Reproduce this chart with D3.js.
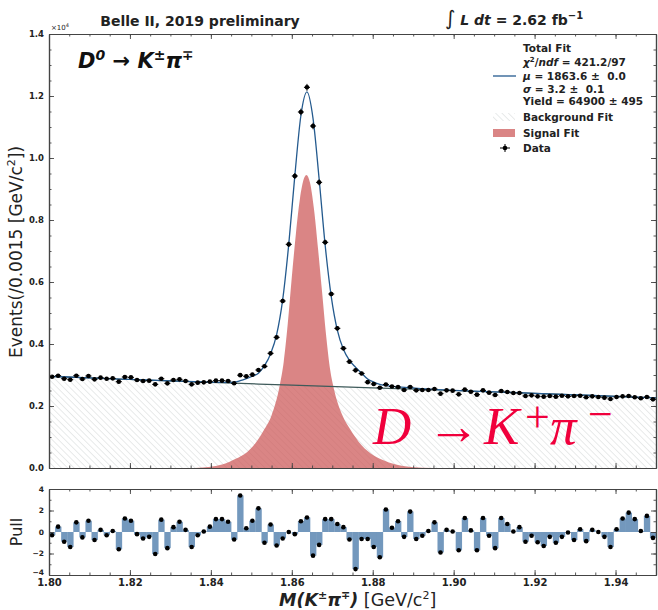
<!DOCTYPE html>
<html>
<head>
<meta charset="utf-8">
<script src="https://cdn.jsdelivr.net/npm/d3@7"></script>
<style>
  body { margin: 0; background: #fff; }
  svg { display: block; }
</style>
</head>
<body>
<svg id="chart" width="658" height="610" font-family="DejaVu Sans, sans-serif"></svg>
<script>
// ---- histogram: 100 bins of 1.5 MeV from 1.80 GeV ----
const binLow = 1.80;
const binWidth = 0.0015;

const counts = [
  2945, 2978, 2881, 2848, 2978, 2871, 2968, 2860, 2914, 2881,
  2892, 2785, 2935, 2925, 2839, 2806, 2817, 2699, 2881, 2731,
  2839, 2860, 2806, 2699, 2753, 2763, 2785, 2817, 2817, 2806,
  2732, 2995, 2957, 3011, 3161, 3280, 3699, 4215, 5387, 7215,
  9419, 11484, 12280, 11032, 9215, 7280, 5613, 4505, 3860, 3430,
  3150, 3050, 2770, 2710, 2591, 2695, 2630, 2610, 2516, 2613,
  2505, 2516, 2516, 2548, 2398, 2505, 2495, 2376, 2527, 2462,
  2366, 2505, 2430, 2355, 2484, 2452, 2419, 2419, 2323, 2344,
  2312, 2301, 2323, 2301, 2333, 2312, 2323, 2333, 2280, 2312,
  2290, 2269, 2226, 2290, 2312, 2323, 2280, 2248, 2290, 2215
];

const pulls = [
  -0.3, 0.5, -0.9, -1.4, 0.9, -0.5, 1.05, -0.75, 0.2, -0.3,
  0.1, -1.6, 1.25, 1.05, -0.2, -0.6, -0.45, -2.05, 1.15, -1.5,
  0.45, 0.95, 0.2, -1.4, -0.3, 0.05, 0.5, 1.2, 1.2, 0.95,
  -0.7, 3.4, 0.35, 1.05, 2.2, -1.0, 0.7, -1.25, -0.6, 0.0,
  -0.2, 1.0, 1.35, -2.2, -1.2, 1.2, 1.2, 0.75, 0.45, -0.7,
  -3.45, -0.65, -0.65, -1.4, -2.35, 2.1, 0.4, 1.0, -0.45, 1.9,
  -0.65, -0.35, 0.1, 0.9, -1.9, 0.2, 0.05, -1.7, 1.3, 0.15,
  -1.7, 1.3, -0.35, -1.5, 1.3, 0.75, 0.05, 0.45, -0.9, -0.35,
  -0.95, -1.3, -0.45, -1.0, -0.45, -0.05, -0.75, 0.25, -0.85, 0.2,
  0.0, -0.45, -1.4, 0.25, 1.25, 1.8, 1.2, 0.1, 1.5, -0.55
];

// ---- fitted curves, sampled in mass (GeV) ----
const bgMass = [1.80, 1.82, 1.84, 1.86, 1.88, 1.90, 1.92, 1.94, 1.95];
const bgFit  = [2955, 2855, 2760, 2672, 2585, 2500, 2408, 2310, 2260];

const sigMass = [1.8360, 1.8400, 1.8430, 1.8460, 1.8490, 1.8510, 1.8530,
                 1.8550, 1.8570, 1.8580, 1.8590, 1.8600, 1.8610, 1.8620, 1.8630,
                 1.8636, 1.8645, 1.8655, 1.8665, 1.8675, 1.8685, 1.8695, 1.8705,
                 1.8725, 1.8745, 1.8765, 1.8795, 1.8825, 1.8855, 1.8895, 1.8950];
const sigFit  = [0, 40, 120, 290, 520, 800, 1200,
                 1700, 2650, 3420, 4650, 6150, 7540, 8680, 9340,
                 9452, 9200, 8330, 7050, 5650, 4250, 3150, 2500,
                 1700, 1230, 850, 470, 260, 120, 30, 0];

const totMass = [1.8000, 1.8100, 1.8200, 1.8300, 1.8380, 1.8430, 1.84575, 1.84725,
                 1.84875, 1.85025, 1.85175, 1.85325, 1.85475, 1.85625, 1.85775, 1.85925,
                 1.86075, 1.86225, 1.86375, 1.86525, 1.86675, 1.86825, 1.86975, 1.87125,
                 1.87275, 1.87425, 1.87575, 1.87725, 1.87875, 1.88025, 1.88175, 1.88400,
                 1.88700, 1.8900, 1.8950, 1.9000, 1.9100, 1.9200, 1.9300, 1.9400, 1.9500];
const totFit  = [2958, 2908, 2858, 2810, 2778, 2762, 2770, 2815,
                 2880, 2960, 3060, 3300, 3680, 4300, 5430, 7220,
                 9430, 11370, 12130, 11270, 9330, 7180, 5530, 4450,
                 3830, 3470, 3250, 3060, 2870, 2770, 2700, 2650,
                 2610, 2580, 2535, 2505, 2458, 2410, 2362, 2312, 2262];

// ---- axis ticks ----
const massTicks  = [1.80, 1.82, 1.84, 1.86, 1.88, 1.90, 1.92, 1.94];
const eventTicks = [0, 2000, 4000, 6000, 8000, 10000, 12000, 14000];
const pullTicks  = [-4, -2, 0, 2, 4];

// ---- layout ----
const svg = d3.select("#chart");
const x  = d3.scaleLinear().domain([1.80, 1.95]).range([49, 656]);
const y  = d3.scaleLinear().domain([0, 14000]).range([468, 34]);
const yp = d3.scaleLinear().domain([-4, 4]).range([575, 489]);

const bins = counts.map((n, i) => ({
  lo: binLow + i * binWidth,
  hi: binLow + (i + 1) * binWidth,
  mid: binLow + (i + 0.5) * binWidth,
  n: n,
  err: Math.sqrt(n),
  pull: pulls[i]
}));

const defs = svg.append("defs");
const hatch = defs.append("pattern")
  .attr("id", "hatch")
  .attr("patternUnits", "userSpaceOnUse")
  .attr("width", 4.5).attr("height", 4.5)
  .attr("patternTransform", "rotate(-45)");
hatch.append("rect").attr("width", 4.5).attr("height", 4.5).attr("fill", "#fff");
hatch.append("line")
  .attr("x1", 0).attr("y1", 0).attr("x2", 0).attr("y2", 4.5)
  .attr("stroke", "#d3d6d6").attr("stroke-width", 1);

defs.append("clipPath").attr("id", "mainClip")
  .append("rect").attr("x", x(1.80)).attr("y", y(14000))
  .attr("width", x(1.95) - x(1.80)).attr("height", y(0) - y(14000));
defs.append("clipPath").attr("id", "pullClip")
  .append("rect").attr("x", x(1.80)).attr("y", yp(4))
  .attr("width", x(1.95) - x(1.80)).attr("height", yp(-4) - yp(4));

// ---- main panel ----
const main = svg.append("g").attr("clip-path", "url(#mainClip)");

const bgPts  = bgMass.map((m, i) => [m, bgFit[i]]);
const sigPts = sigMass.map((m, i) => [m, sigFit[i]]);
const totPts = totMass.map((m, i) => [m, totFit[i]]);

// background component (hatched)
main.append("path")
  .datum(bgPts)
  .attr("d", d3.area().x(d => x(d[0])).y0(y(0)).y1(d => y(d[1])).curve(d3.curveMonotoneX))
  .attr("fill", "url(#hatch)");

// signal component
main.append("path")
  .datum(sigPts)
  .attr("d", d3.area().x(d => x(d[0])).y0(y(0)).y1(d => y(d[1])).curve(d3.curveMonotoneX))
  .attr("fill", "indianred")
  .attr("fill-opacity", 0.75);

// background edge
main.append("path")
  .datum(bgPts)
  .attr("d", d3.line().x(d => x(d[0])).y(d => y(d[1])).curve(d3.curveMonotoneX))
  .attr("fill", "none").attr("stroke", "#3e5a5a").attr("stroke-width", 1.2);

// total fit
main.append("path")
  .datum(totPts)
  .attr("d", d3.line().x(d => x(d[0])).y(d => y(d[1])).curve(d3.curveMonotoneX))
  .attr("fill", "none").attr("stroke", "#245a8e").attr("stroke-width", 1.3);

// data points with error bars
const pts = main.append("g").selectAll("g").data(bins).join("g");
pts.append("line")
  .attr("x1", d => x(d.lo)).attr("x2", d => x(d.hi))
  .attr("y1", d => y(d.n)).attr("y2", d => y(d.n))
  .attr("stroke", "#000").attr("stroke-width", 1);
pts.append("line")
  .attr("x1", d => x(d.mid)).attr("x2", d => x(d.mid))
  .attr("y1", d => y(d.n - d.err)).attr("y2", d => y(d.n + d.err))
  .attr("stroke", "#000").attr("stroke-width", 1);
pts.append("circle")
  .attr("cx", d => x(d.mid)).attr("cy", d => y(d.n)).attr("r", 2.3)
  .attr("fill", "#000");

// ---- pull panel ----
const pull = svg.append("g").attr("clip-path", "url(#pullClip)");
pull.selectAll("rect").data(bins).join("rect")
  .attr("x", d => x(d.lo))
  .attr("width", d => x(d.hi) - x(d.lo) + 0.3)
  .attr("y", d => yp(Math.max(0, d.pull)))
  .attr("height", d => Math.abs(yp(d.pull) - yp(0)))
  .attr("fill", "#7398bd");
pull.selectAll("circle").data(bins).join("circle")
  .attr("cx", d => x(d.mid)).attr("cy", d => yp(d.pull)).attr("r", 2.3)
  .attr("fill", "#000");

// ---- axes ----
const frameColor = "#444";
function styleAxis(g, labelSize) {
  g.select(".domain").attr("stroke", frameColor).attr("stroke-width", 1.2);
  g.selectAll(".tick line").attr("stroke", frameColor).attr("stroke-width", 0.9);
  g.selectAll(".tick text")
    .attr("font-family", "DejaVu Sans").attr("font-weight", "bold")
    .attr("font-size", labelSize).attr("fill", "#222");
}
const minorMass = d3.range(0, 31).map(k => 1.80 + k * 0.005);
const minorEvents = d3.range(0, 29).map(k => k * 500);
const minorPull = d3.range(-4, 5);
const fmtEvents = v => d3.format(".1f")(v / 1e4);
const fmtMass = d3.format(".2f");
const fmtPull = v => (v < 0 ? "\u2212" + Math.abs(v) : String(v));

function addAxis(gen, ticks, tickLen, transform, fmt, size, pad) {
  const g = svg.append("g").attr("transform", transform)
    .call(gen.tickValues(ticks).tickSize(-tickLen).tickSizeOuter(0)
      .tickPadding(pad || 4).tickFormat(fmt || (() => "")));
  styleAxis(g, size || 8);
  return g;
}

// main panel: left, right, top, bottom
addAxis(d3.axisLeft(y), minorEvents, 2.5, `translate(${x(1.80)},0)`);
addAxis(d3.axisLeft(y), eventTicks, 5, `translate(${x(1.80)},0)`, fmtEvents, 8.5, 5);
addAxis(d3.axisRight(y), minorEvents, 2.5, `translate(${x(1.95)},0)`);
addAxis(d3.axisRight(y), eventTicks, 5, `translate(${x(1.95)},0)`);
addAxis(d3.axisTop(x), minorMass, 2.5, `translate(0,${y(14000)})`);
addAxis(d3.axisTop(x), massTicks, 5, `translate(0,${y(14000)})`);
addAxis(d3.axisBottom(x), minorMass, 2.5, `translate(0,${y(0)})`);
addAxis(d3.axisBottom(x), massTicks, 5, `translate(0,${y(0)})`);

// pull panel
addAxis(d3.axisLeft(yp), minorPull, 2.5, `translate(${x(1.80)},0)`);
const pullAxis = addAxis(d3.axisLeft(yp), pullTicks, 5, `translate(${x(1.80)},0)`, fmtPull, 7.5, 5);
pullAxis.selectAll(".tick text").filter(d => d === -4).attr("dy", "-0.05em");
addAxis(d3.axisRight(yp), minorPull, 2.5, `translate(${x(1.95)},0)`);
addAxis(d3.axisRight(yp), pullTicks, 5, `translate(${x(1.95)},0)`);
addAxis(d3.axisTop(x), minorMass, 2.5, `translate(0,${yp(4)})`);
addAxis(d3.axisTop(x), massTicks, 5, `translate(0,${yp(4)})`);
addAxis(d3.axisBottom(x), minorMass, 2.5, `translate(0,${yp(-4)})`);
addAxis(d3.axisBottom(x), massTicks, 5, `translate(0,${yp(-4)})`, fmtMass, 10, 4);

// ---- labels ----
const ink = "#222";
svg.append("text").attr("x", x(1.80) + 2).attr("y", y(14000) - 4)
  .attr("font-size", 7).attr("fill", ink)
  .html('\u00d710<tspan dy="-3" font-size="5">4</tspan>');

svg.append("text")
  .attr("transform", `translate(22,252) rotate(-90)`)
  .attr("text-anchor", "middle").attr("font-size", 17).attr("fill", ink)
  .html('Events(/0.0015 [GeV/c<tspan dy="-7" font-size="11">2</tspan><tspan dy="7">])</tspan>');

svg.append("text")
  .attr("transform", `translate(22,${yp(0)}) rotate(-90)`)
  .attr("text-anchor", "middle").attr("font-size", 16).attr("fill", ink)
  .text("Pull");

svg.append("text")
  .attr("x", 279).attr("y", 606)
  .attr("font-size", 17.5).attr("fill", ink)
  .html('<tspan font-weight="bold" font-style="italic">M(K<tspan dy="-7" font-size="11">\u00b1</tspan><tspan dy="7">\u03c0</tspan><tspan dy="-7" font-size="11">\u2213</tspan><tspan dy="7">)</tspan></tspan> [GeV/c<tspan dy="-7" font-size="11">2</tspan><tspan dy="7">]</tspan>');

svg.append("text")
  .attr("x", 200).attr("y", 26).attr("text-anchor", "middle")
  .attr("font-size", 14).attr("font-weight", "bold").attr("fill", ink)
  .text("Belle II, 2019 preliminary");

svg.append("text")
  .attr("x", 445).attr("y", 25).attr("font-size", 14).attr("font-weight", "bold").attr("fill", ink)
  .html('<tspan font-size="20" font-weight="normal">\u222b</tspan><tspan font-style="italic"> L dt</tspan> = 2.62 fb<tspan dy="-6" font-size="10">\u22121</tspan>');

svg.append("text")
  .attr("x", 78).attr("y", 68).attr("font-size", 21)
  .attr("font-weight", "bold").attr("font-style", "italic").attr("fill", "#111")
  .html('D<tspan dy="-8" font-size="14">0</tspan><tspan dy="8" font-style="normal"> \u2192 </tspan>K<tspan dy="-8" font-size="14">\u00b1</tspan><tspan dy="8">\u03c0</tspan><tspan dy="-8" font-size="14">\u2213</tspan>');

// decay annotation in the lower right
svg.append("text")
  .attr("x", 373).attr("y", 444)
  .style("font-family", "'Liberation Serif', 'DejaVu Serif', serif")
  .style("font-size", "53px").style("font-style", "italic")
  .attr("fill", "#f0003c")
  .html('D<tspan x="427" style="font-style:normal">\u2192</tspan>' +
        '<tspan x="484">K</tspan>' +
        '<tspan x="525" dy="-12" style="font-size:44px;font-style:normal">+</tspan>' +
        '<tspan x="550" dy="12">\u03c0</tspan>' +
        '<tspan x="588" dy="-15" style="font-size:44px;font-style:normal">\u2212</tspan>');

// ---- legend ----
const lg = svg.append("g").attr("font-size", 10.5).attr("font-weight", "bold").attr("fill", ink);
const tx = 523;
lg.append("text").attr("x", tx).attr("y", 52).text("Total Fit");
lg.append("text").attr("x", tx).attr("y", 66)
  .html('<tspan font-style="italic">\u03c7</tspan><tspan dy="-4" font-size="7">2</tspan><tspan dy="4">/</tspan><tspan font-style="italic">ndf</tspan> = 421.2/97');
lg.append("text").attr("x", tx).attr("y", 80).attr("xml:space", "preserve")
  .html('<tspan font-style="italic">\u03bc</tspan> = 1863.6 \u00b1\u00a0 0.0');
lg.append("text").attr("x", tx).attr("y", 93).attr("xml:space", "preserve")
  .html('<tspan font-style="italic">\u03c3</tspan> = 3.2 \u00b1\u00a0 0.1');
lg.append("text").attr("x", tx).attr("y", 105).text("Yield = 64900 \u00b1 495");
lg.append("text").attr("x", tx).attr("y", 121).text("Background Fit");
lg.append("text").attr("x", tx).attr("y", 137).text("Signal Fit");
lg.append("text").attr("x", tx).attr("y", 152).text("Data");

svg.append("line").attr("x1", 493).attr("x2", 516).attr("y1", 76).attr("y2", 76)
  .attr("stroke", "#245a8e").attr("stroke-width", 1.3);
svg.append("rect").attr("x", 493).attr("y", 113).attr("width", 22).attr("height", 8)
  .attr("fill", "url(#hatch)");
svg.append("rect").attr("x", 493).attr("y", 129).attr("width", 22).attr("height", 8)
  .attr("fill", "indianred").attr("fill-opacity", 0.75);
svg.append("line").attr("x1", 500).attr("x2", 510).attr("y1", 148).attr("y2", 148)
  .attr("stroke", "#000").attr("stroke-width", 1);
svg.append("line").attr("x1", 505).attr("x2", 505).attr("y1", 144).attr("y2", 152)
  .attr("stroke", "#000").attr("stroke-width", 1);
svg.append("circle").attr("cx", 505).attr("cy", 148).attr("r", 2.3).attr("fill", "#000");
</script>
</body>
</html>
